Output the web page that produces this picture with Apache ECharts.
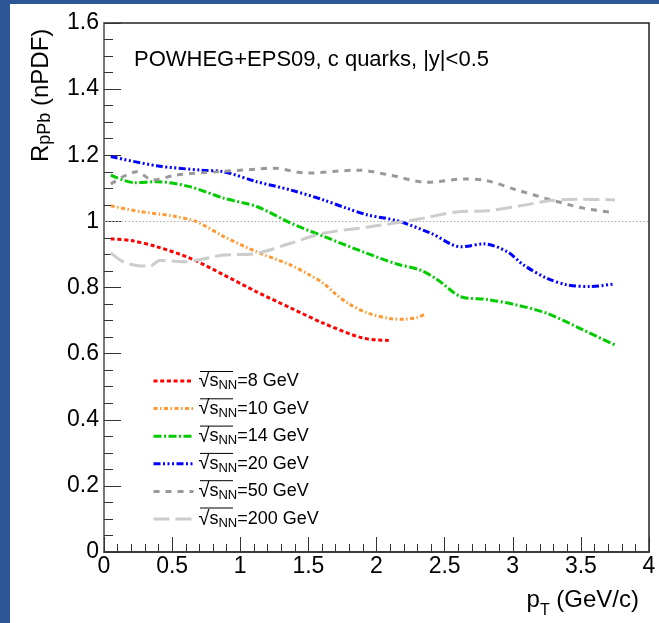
<!DOCTYPE html>
<html lang="en">
<head>
    <meta charset="UTF-8">
    <title>RpPb nPDF</title>
    <style>
        html, body { margin: 0; padding: 0; background: #fff; }
        #chart { width: 659px; height: 623px; }
    </style>
</head>
<body>
    <div id="chart"></div>
    <script src="https://cdn.jsdelivr.net/npm/echarts@6/dist/echarts.min.js"></script>
    <script>
        // values (pT in GeV/c, R_pPb)
        var pt8 = [0.05, 0.2, 0.39, 0.63, 0.88, 1.12, 1.37, 1.61, 1.9, 2.09];
        var r8 = [0.947, 0.942, 0.923, 0.889, 0.838, 0.787, 0.738, 0.692, 0.647, 0.640];

        var pt10 = [0.05, 0.26, 0.51, 0.68, 0.88, 1.12, 1.37, 1.5, 1.61, 1.7, 1.8, 1.94, 2.1, 2.2, 2.3, 2.36];
        var r10 = [1.047, 1.03, 1.016, 0.999, 0.954, 0.908, 0.868, 0.84, 0.813, 0.78, 0.75, 0.722, 0.706, 0.704, 0.71, 0.72];

        var pt14 = [0.05, 0.22, 0.39, 0.63, 0.88, 1.12, 1.37, 1.61, 1.9, 2.15, 2.32, 2.45, 2.62, 2.81, 3.03, 3.25, 3.52, 3.75];
        var r14 = [1.14, 1.117, 1.12, 1.105, 1.07, 1.045, 0.995, 0.955, 0.908, 0.871, 0.853, 0.823, 0.772, 0.764, 0.747, 0.722, 0.671, 0.626];

        var pt20 = [0.05, 0.39, 0.71, 0.88, 1.12, 1.37, 1.61, 1.78, 1.94, 2.15, 2.4, 2.62, 2.79, 2.96, 3.08, 3.25, 3.4, 3.57, 3.75];
        var r20 = [1.196, 1.168, 1.155, 1.15, 1.12, 1.095, 1.065, 1.04, 1.019, 1.002, 0.964, 0.923, 0.932, 0.908, 0.868, 0.828, 0.808, 0.803, 0.811];

        var pt50 = [0.05, 0.24, 0.36, 0.53, 0.83, 1.12, 1.24, 1.49, 1.86, 2.1, 2.37, 2.64, 2.81, 3.03, 3.28, 3.52, 3.75];
        var r50 = [1.113, 1.15, 1.125, 1.14, 1.15, 1.158, 1.161, 1.146, 1.155, 1.14, 1.118, 1.128, 1.123, 1.095, 1.065, 1.04, 1.026];

        var pt200 = [0.05, 0.14, 0.25, 0.34, 0.41, 0.58, 0.88, 1.1, 1.37, 1.61, 1.94, 2.27, 2.62, 2.81, 3.03, 3.28, 3.52, 3.75];
        var r200 = [0.905, 0.878, 0.866, 0.865, 0.882, 0.878, 0.898, 0.902, 0.934, 0.964, 0.983, 1.004, 1.03, 1.032, 1.045, 1.063, 1.067, 1.065];

        var names = ['8 GeV', '10 GeV', '14 GeV', '20 GeV', '50 GeV', '200 GeV'];
        var colors = ['#ff0000', '#ff9933', '#00cc00', '#0000ff', '#999999', '#cccccc'];
        var dashes = [[4, 2.7], [4, 2.5, 1.5, 2.5], [8, 2.5, 2, 2.5], [7, 2.5, 2, 2.5, 2, 2.5, 2, 2.5], [6, 6], [16, 6]];
        var xs = [pt8, pt10, pt14, pt20, pt50, pt200];
        var ys = [r8, r10, r14, r20, r50, r200];

        var font = 'Liberation Sans';

        function zip(a, b) {
            return a.map(function (v, i) { return [v, b[i]]; });
        }

        var series = names.map(function (n, i) {
            var s = {
                name: n,
                type: 'line',
                data: zip(xs[i], ys[i]),
                smooth: 0.3,
                symbol: 'none',
                lineStyle: { color: colors[i], width: 3, type: dashes[i] },
                itemStyle: { color: colors[i] },
                z: 3
            };
            if (i == 0) {
                s.markLine = {
                    silent: true,
                    symbol: 'none',
                    label: { show: false },
                    lineStyle: { color: '#aaaaaa', width: 1, type: [1.5, 2] },
                    data: [{ yAxis: 1 }],
                    z: 1
                };
            }
            return s;
        });

        // little bar over s_NN in the legend
        var legTop = 371, legPitch = 27.3;
        var overlines = names.map(function (n, i) {
            return {
                type: 'line',
                shape: { x1: 200, y1: legTop + i * legPitch + 0.5, x2: 233, y2: legTop + i * legPitch + 0.5 },
                style: { stroke: '#000', lineWidth: 1 }
            };
        });

        var chart = echarts.init(document.getElementById('chart'));
        chart.setOption({
            animation: false,
            backgroundColor: '#fff',
            grid: {
                left: 104, right: 10, top: 23, bottom: 71,
                show: true, borderColor: '#222', borderWidth: 1.5, backgroundColor: 'transparent'
            },
            xAxis: {
                type: 'value', min: 0, max: 4, interval: 0.5,
                axisLine: { onZero: false, lineStyle: { color: '#333', width: 1.5 } },
                axisTick: { inside: true, length: 15, lineStyle: { color: '#333' } },
                minorTick: { show: true, splitNumber: 5, length: 8, lineStyle: { color: '#333' } },
                axisLabel: { color: '#000', fontFamily: font, fontSize: 23, margin: 3 },
                splitLine: { show: false }
            },
            yAxis: {
                type: 'value', min: 0, max: 1.6, interval: 0.2,
                axisLine: { show: true, lineStyle: { color: '#777', width: 2 } },
                axisTick: { show: true, inside: true, length: 17, lineStyle: { color: '#333' } },
                minorTick: { show: true, splitNumber: 4, length: 9, lineStyle: { color: '#333' } },
                axisLabel: { color: '#000', fontFamily: font, fontSize: 23, margin: 5 },
                splitLine: { show: false }
            },
            legend: {
                data: names,
                orient: 'vertical',
                left: 152, top: legTop,
                padding: 0,
                itemWidth: 40, itemHeight: 12, itemGap: 6.6,
                selectedMode: false,
                itemStyle: { opacity: 0 },
                lineStyle: { width: 3 },
                formatter: function (name) {
                    return '{q|\u221A}{s|s}{n|NN}{t|=' + name + '}';
                },
                textStyle: {
                    color: '#000', fontFamily: font, fontSize: 18,
                    rich: {
                        q: { fontSize: 20, lineHeight: 22, fontFamily: font },
                        s: { fontSize: 18, lineHeight: 22, fontFamily: font },
                        n: { fontSize: 13, lineHeight: 14, verticalAlign: 'bottom', fontFamily: font },
                        t: { fontSize: 18, lineHeight: 22, fontFamily: font }
                    }
                }
            },
            graphic: [
                { type: 'rect', shape: { x: 0, y: 0, width: 10, height: 623 }, style: { fill: '#2c5696' } },
                { type: 'rect', shape: { x: 0, y: 0, width: 659, height: 4 }, style: { fill: '#2c5696' } },
                {
                    type: 'text', left: 134, top: 49,
                    style: { text: 'POWHEG+EPS09, c quarks, |y|<0.5', fill: '#000', font: '22px "Liberation Sans"' }
                },
                {
                    type: 'text', x: 41, y: 162, rotation: Math.PI / 2,
                    style: {
                        text: '{a|R}{b|pPb}{a| (nPDF)}',
                        textAlign: 'left', textVerticalAlign: 'middle',
                        rich: {
                            a: { fontSize: 24, lineHeight: 26, fontFamily: font, fill: '#000' },
                            b: { fontSize: 18, lineHeight: 18, verticalAlign: 'bottom', fontFamily: font, fill: '#000' }
                        }
                    }
                },
                {
                    type: 'text', x: 639, y: 600,
                    style: {
                        text: '{a|p}{b|T}{a| (GeV/c)}',
                        textAlign: 'right', textVerticalAlign: 'middle',
                        rich: {
                            a: { fontSize: 24, lineHeight: 26, fontFamily: font, fill: '#000' },
                            b: { fontSize: 16, lineHeight: 16, verticalAlign: 'bottom', fontFamily: font, fill: '#000', padding: [0, 0, -6, 0] }
                        }
                    }
                }
            ].concat(overlines),
            series: series
        });
    </script>
</body>
</html>
